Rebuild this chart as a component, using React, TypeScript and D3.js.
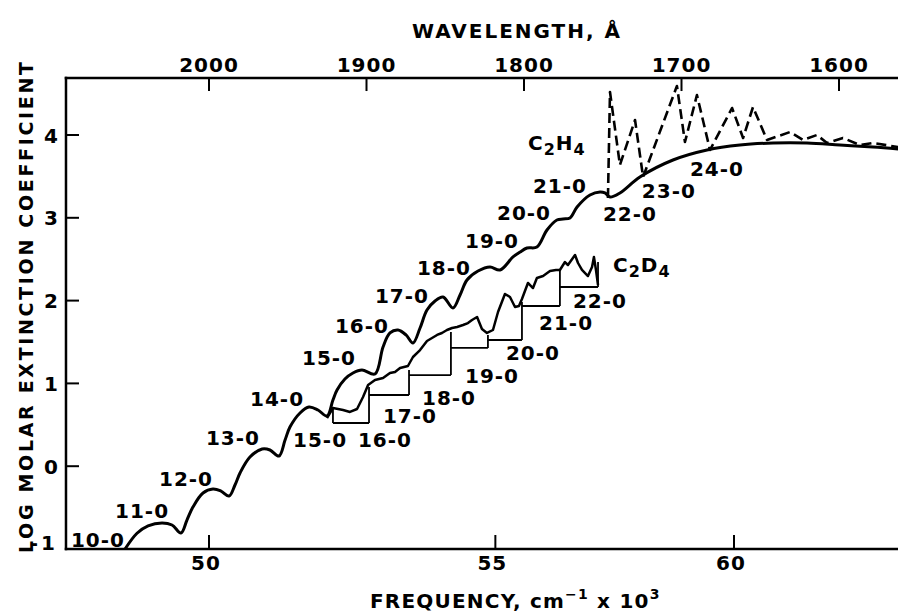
import React from 'react';
import * as d3 from 'd3';

// x data are wavelengths in Å (the chart is linear in wavelength); y = log molar extinction coefficient
const c2h4Solid: [number, number][] = [
  [2053.3, -1.0], [2045.7, -0.81], [2038.7, -0.72], [2029.8, -0.686], [2023.5, -0.71], [2017.8, -0.807],
  [2014.0, -0.65], [2010.2, -0.493], [2003.8, -0.324], [1997.5, -0.275], [1992.4, -0.3], [1987.3, -0.36],
  [1983.5, -0.227], [1980.3, -0.082], [1974.0, 0.111], [1966.3, 0.208], [1961.3, 0.196], [1955.6, 0.123],
  [1951.7, 0.316], [1948.6, 0.473], [1942.2, 0.643], [1936.5, 0.715], [1930.8, 0.679], [1925.1, 0.606],
  [1921.3, 0.8], [1918.7, 0.92], [1913.7, 1.053], [1908.6, 1.126], [1902.9, 1.162], [1894.6, 1.114],
  [1889.5, 1.44], [1885.1, 1.609], [1880.0, 1.645], [1874.9, 1.585], [1870.5, 1.488], [1866.0, 1.669],
  [1861.6, 1.886], [1856.5, 1.995], [1851.4, 2.043], [1845.1, 1.911], [1840.6, 2.068], [1836.2, 2.249],
  [1829.2, 2.357], [1821.6, 2.406], [1815.2, 2.37], [1807.0, 2.527], [1802.5, 2.587], [1798.1, 2.635],
  [1791.8, 2.647], [1785.4, 2.853], [1779.1, 2.973], [1775.2, 2.986], [1770.8, 2.998], [1766.3, 3.13],
  [1758.1, 3.275], [1751.7, 3.312], [1748.6, 3.3], [1745.4, 3.251], [1739.1, 3.3], [1726.4, 3.493],
  [1705.4, 3.698], [1683.8, 3.819], [1662.9, 3.879], [1641.9, 3.903], [1620.3, 3.903], [1599.4, 3.879],
  [1578.4, 3.855], [1562.5, 3.831],
];

const c2h4Dashed: [number, number][] = [
  [1746.7, 3.239], [1745.4, 4.519], [1739.1, 3.638], [1729.5, 4.181], [1724.4, 3.493], [1702.9, 4.592],
  [1697.8, 3.915], [1690.2, 4.483], [1681.9, 3.819], [1667.9, 4.326], [1660.9, 3.964], [1654.6, 4.338],
  [1645.7, 3.94], [1631.1, 4.036], [1622.9, 3.94], [1614.0, 4.0], [1607.6, 3.903], [1597.5, 3.964],
  [1586.7, 3.879], [1578.4, 3.903], [1562.5, 3.855],
];

const c2d4Curve: [number, number][] = [
  [1925.1, 0.582], [1921.3, 0.703], [1914.9, 0.679], [1910.5, 0.655], [1906.0, 0.691], [1902.2, 0.836],
  [1899.0, 0.981], [1894.6, 1.041], [1889.5, 1.065], [1885.1, 1.126], [1881.9, 1.138], [1878.7, 1.186],
  [1873.7, 1.21], [1870.5, 1.319], [1866.0, 1.403], [1861.6, 1.512], [1858.4, 1.548], [1855.2, 1.585],
  [1852.1, 1.609], [1848.9, 1.645], [1845.7, 1.669], [1842.5, 1.681], [1838.7, 1.705], [1835.6, 1.729],
  [1833.0, 1.766], [1829.8, 1.802], [1826.7, 1.657], [1823.5, 1.609], [1819.7, 1.645], [1816.5, 1.862],
  [1812.1, 2.08], [1808.9, 2.043], [1805.7, 1.923], [1803.2, 1.935], [1801.3, 2.019], [1797.5, 2.213],
  [1794.3, 2.152], [1791.8, 2.273], [1787.9, 2.297], [1783.5, 2.357], [1779.7, 2.37], [1777.2, 2.37],
  [1774.0, 2.466], [1772.1, 2.43], [1767.6, 2.551], [1765.7, 2.454], [1763.2, 2.37], [1759.4, 2.297],
  [1756.8, 2.406], [1755.6, 2.527], [1754.3, 2.37], [1753.0, 2.188],
];

// C2D4 band origins (staircase)
const c2d4OriginWavelength = [1921.3, 1898.4, 1873.0, 1846.4, 1822.9, 1801.3, 1777.2, 1753.0];
const c2d4OriginTop = [0.703, 0.957, 1.162, 1.621, 1.585, 1.983, 2.37, 2.466];
const c2d4StepLevel = [0.522, 0.86, 1.101, 1.428, 1.524, 1.935, 2.164];

const c2h4Bands = ['10-0', '11-0', '12-0', '13-0', '14-0', '15-0', '16-0', '17-0', '18-0', '19-0', '20-0', '21-0', '22-0', '23-0', '24-0'];
const c2h4BandWavelength = [2070.5, 2042.5, 2014.6, 1984.8, 1956.8, 1923.8, 1902.9, 1877.5, 1850.8, 1820.3, 1800.0, 1777.2, 1732.7, 1708.0, 1677.5];
const c2h4BandLogE = [-0.976, -0.626, -0.239, 0.256, 0.727, 1.222, 1.609, 1.971, 2.309, 2.635, 2.973, 3.3, 2.961, 3.239, 3.505];

const c2d4Bands = ['15-0', '16-0', '17-0', '18-0', '19-0', '20-0', '21-0', '22-0'];
const c2d4BandWavelength = [1929.5, 1888.3, 1872.4, 1847.6, 1820.3, 1794.3, 1773.3, 1751.8];
const c2d4BandLogE = [0.232, 0.232, 0.522, 0.739, 1.005, 1.283, 1.645, 1.911];

const wavelengthTicks = [2000, 1900, 1800, 1700, 1600];
const frequencyTicks = [50, 55, 60]; // cm^-1 x 10^3
const logTicks = [-1, 0, 1, 2, 3, 4];

const W = 898;
const H = 612;
const FONT = "'DejaVu Sans', sans-serif";

export default function App() {
  const x = d3.scaleLinear().domain([2000, 1600]).range([209, 839]);
  const y = d3.scaleLinear().domain([-1, 4]).range([549, 135]);
  const lamLeft = 2090.8;
  const lamRight = 1562.5;
  const vTop = 4.688;
  const vBottom = -1;
  const x0 = x(lamLeft);
  const x1 = x(lamRight);
  const yTop = y(vTop);
  const yBot = y(vBottom);
  const freqToLam = (f: number) => 100000 / f;

  const smooth = d3
    .line<[number, number]>()
    .x((d) => x(d[0]))
    .y((d) => y(d[1]))
    .curve(d3.curveCatmullRom.alpha(0.5));
  const linear = d3
    .line<[number, number]>()
    .x((d) => x(d[0]))
    .y((d) => y(d[1]));

  const stepLines: { x1: number; y1: number; x2: number; y2: number }[] = [];
  c2d4OriginWavelength.forEach((lam, k) => {
    const base = k === 0 ? c2d4StepLevel[0] : c2d4StepLevel[k - 1];
    stepLines.push({ x1: x(lam), y1: y(base), x2: x(lam), y2: y(c2d4OriginTop[k]) });
    if (k < c2d4StepLevel.length) {
      stepLines.push({
        x1: x(lam),
        y1: y(c2d4StepLevel[k]),
        x2: x(c2d4OriginWavelength[k + 1]),
        y2: y(c2d4StepLevel[k]),
      });
    }
  });

  const labelStyle = { fontFamily: FONT, fontWeight: 700 as const, fontSize: 20, letterSpacing: 1 };

  return (
    <svg
      width={W}
      height={H}
      viewBox={`0 0 ${W} ${H}`}
      style={{ position: 'absolute', left: 0, top: 0, background: '#fff' }}
    >
      <rect x={0} y={0} width={W} height={H} fill="#fff" />
      {/* frame */}
      <g stroke="#000" strokeWidth={2.5} fill="none" strokeLinecap="square">
        <line x1={x0} y1={yTop} x2={x1} y2={yTop} />
        <line x1={x0} y1={yBot} x2={x1} y2={yBot} />
        <line x1={x0} y1={yTop} x2={x0} y2={yBot} />
      </g>
      {/* ticks */}
      <g stroke="#000" strokeWidth={2}>
        {logTicks.filter((t) => t > -1).map((t) => (
          <line key={t} x1={x0} y1={y(t)} x2={x0 + 13} y2={y(t)} />
        ))}
        {wavelengthTicks.map((t) => (
          <line key={t} x1={x(t)} y1={yTop} x2={x(t)} y2={yTop + 13} />
        ))}
        {frequencyTicks.map((t) => (
          <line key={t} x1={x(freqToLam(t))} y1={yBot} x2={x(freqToLam(t))} y2={yBot - 14} />
        ))}
      </g>
      {/* tick labels */}
      <g fontFamily={FONT} fontWeight={700} fontSize={20} fill="#000">
        {logTicks.map((t) => (
          <text key={t} x={58} y={y(t) + (t === -1 ? 1 : 7.5)} textAnchor="end" letterSpacing={t === -1 ? 3 : 0}>
            {String(t)}
          </text>
        ))}
        {wavelengthTicks.map((t) => (
          <text key={t} x={x(t)} y={72} textAnchor="middle" letterSpacing={1}>
            {t}
          </text>
        ))}
        {frequencyTicks.map((t) => (
          <text key={t} x={x(freqToLam(t)) - 3} y={570} textAnchor="middle" letterSpacing={1}>
            {t}
          </text>
        ))}
      </g>
      {/* axis titles */}
      <text x={412} y={38} fontFamily={FONT} fontWeight={700} fontSize={20} textLength={208} lengthAdjust="spacing">
        WAVELENGTH, Å
      </text>
      <text
        transform="translate(33,553) rotate(-90)"
        x={0}
        y={0}
        fontFamily={FONT}
        fontWeight={700}
        fontSize={19}
        textLength={491}
        lengthAdjust="spacing"
      >
        LOG MOLAR EXTINCTION COEFFICIENT
      </text>
      <text x={370} y={608} fontFamily={FONT} fontWeight={700} fontSize={20} letterSpacing={1.2}>
        FREQUENCY, cm
        <tspan fontSize={14} dy={-9}>−1</tspan>
        <tspan dy={9}> x 10</tspan>
        <tspan fontSize={14} dy={-9}>3</tspan>
      </text>

      {/* curves */}
      <path d={smooth(c2h4Solid) || ''} fill="none" stroke="#000" strokeWidth={3} strokeLinejoin="round" />
      <path
        d={linear(c2h4Dashed) || ''}
        fill="none"
        stroke="#000"
        strokeWidth={2.6}
        strokeDasharray="10 5"
        strokeLinejoin="round"
      />
      <path d={linear(c2d4Curve) || ''} fill="none" stroke="#000" strokeWidth={2.5} strokeLinejoin="round" />
      <g stroke="#000" strokeWidth={1.8}>
        {stepLines.map((s, i) => (
          <line key={i} x1={s.x1} y1={s.y1} x2={s.x2} y2={s.y2} />
        ))}
      </g>

      {/* band labels */}
      <g {...labelStyle} fill="#000">
        {c2h4Bands.map((b, i) => (
          <text key={b} x={x(c2h4BandWavelength[i])} y={y(c2h4BandLogE[i])} textAnchor="middle">
            {b}
          </text>
        ))}
        {c2d4Bands.map((b, i) => (
          <text key={'d' + b} x={x(c2d4BandWavelength[i])} y={y(c2d4BandLogE[i])} textAnchor="middle">
            {b}
          </text>
        ))}
        <text x={x(1797.5)} y={y(3.819)}>
          C<tspan fontSize={16} dy={5}>2</tspan>
          <tspan dy={-5}>H</tspan>
          <tspan fontSize={16} dy={5}>4</tspan>
        </text>
        <text x={x(1743.5)} y={y(2.345)}>
          C<tspan fontSize={16} dy={5}>2</tspan>
          <tspan dy={-5}>D</tspan>
          <tspan fontSize={16} dy={5}>4</tspan>
        </text>
      </g>
    </svg>
  );
}
